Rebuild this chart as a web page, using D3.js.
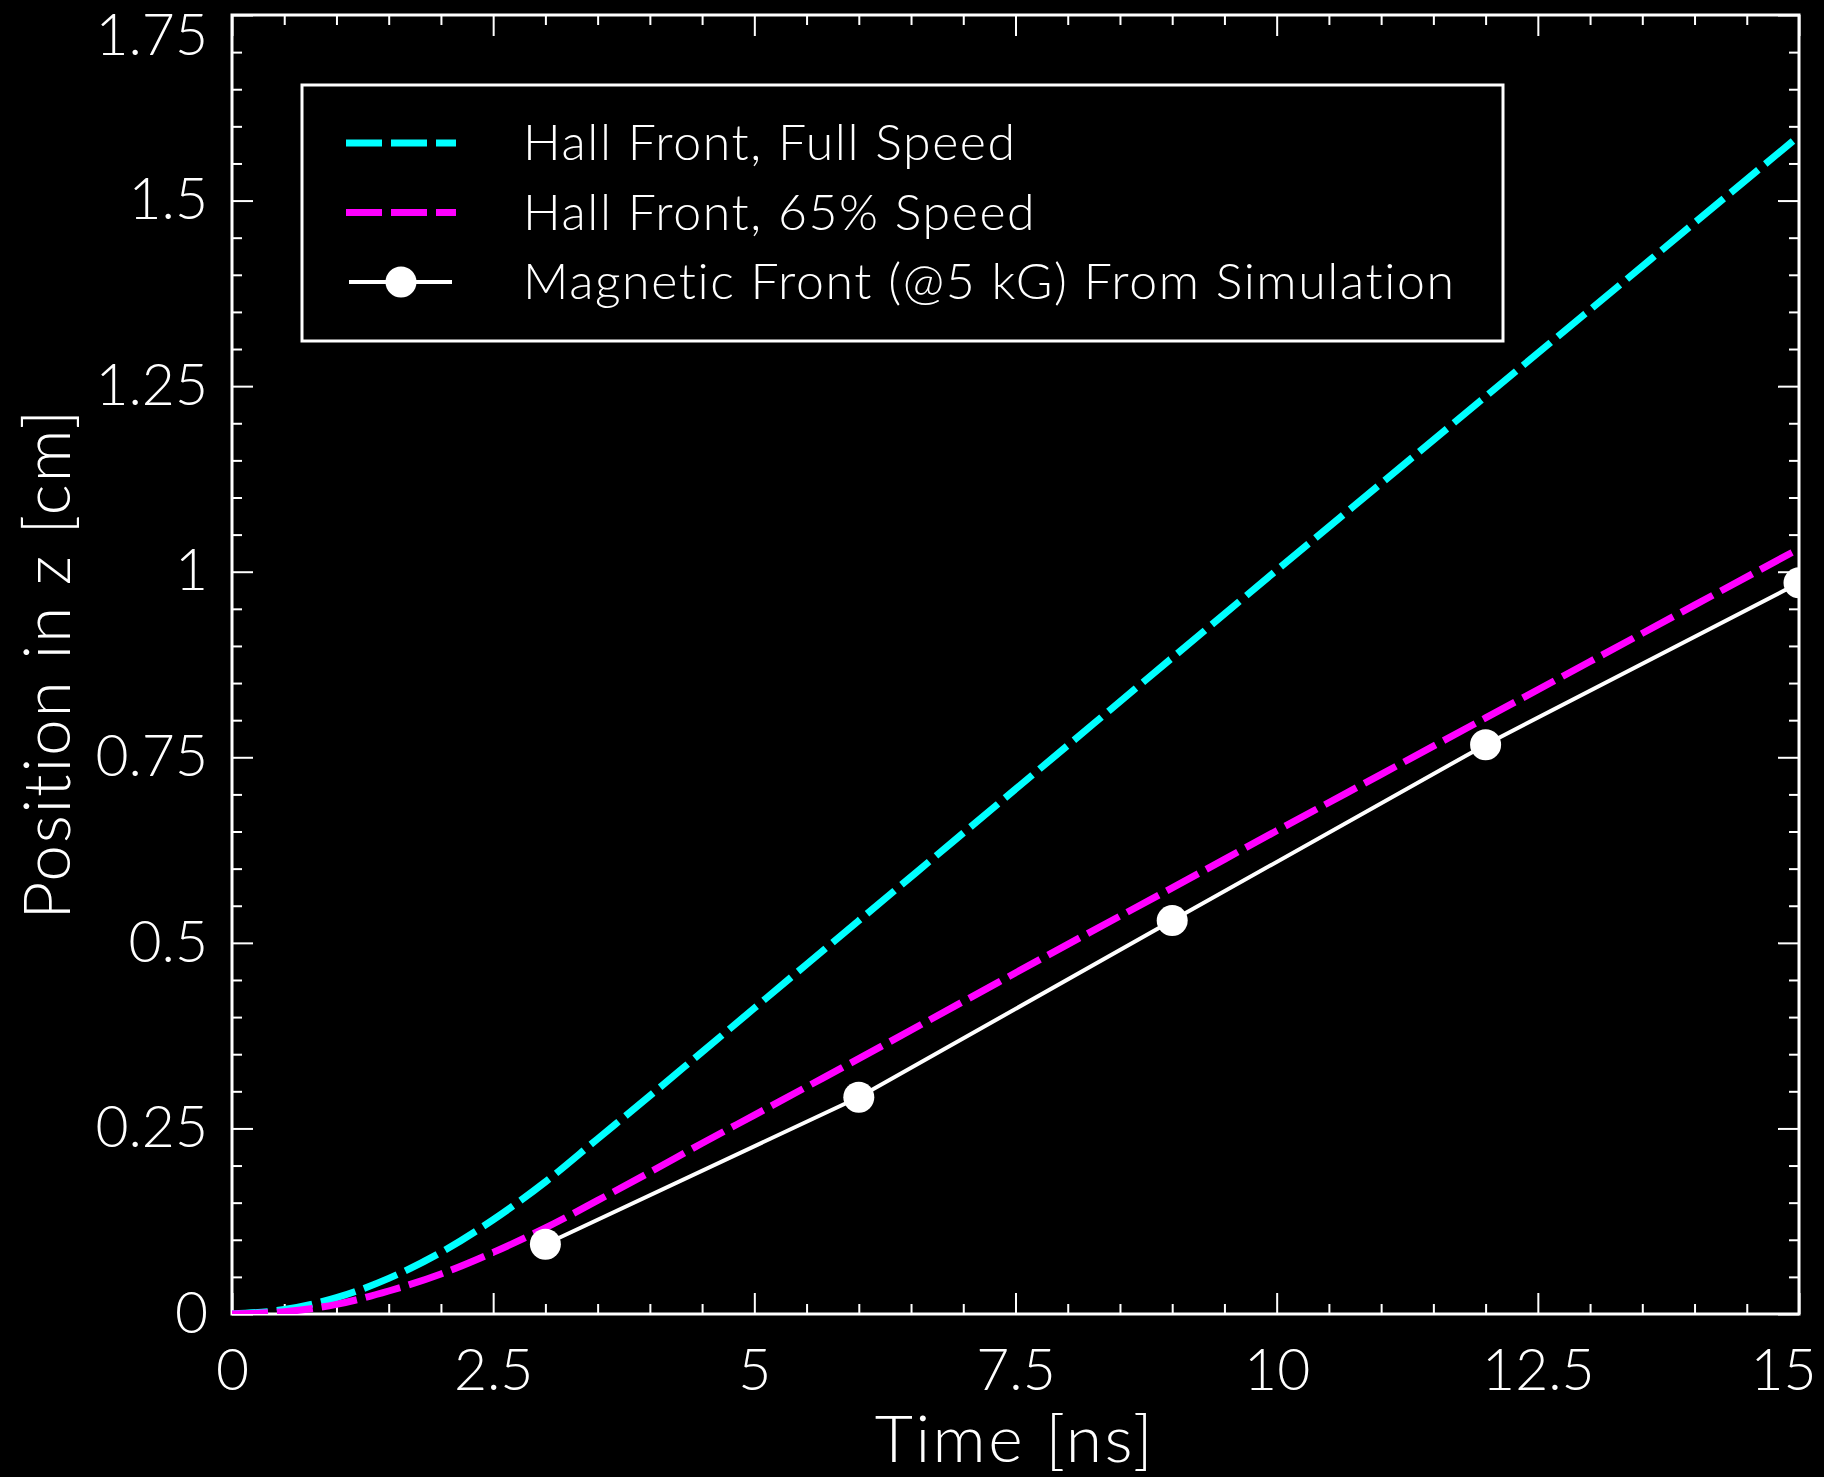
<!DOCTYPE html>
<html>
<head>
<meta charset="utf-8">
<script src="https://cdn.jsdelivr.net/npm/d3@7"></script>
<style>
  body { margin: 0; background: #000; }
  svg { display: block; }
  text { font-family: Lato, "Noto Sans", sans-serif; font-weight: 300; fill: #fff; }
</style>
</head>
<body>
<div id="vis"></div>
<script>
// hall front curves
var timeNs = [0, 0.5, 1, 1.5, 2, 2.5, 3, 3.5, 4, 4.5, 5, 5.5, 6, 7, 8, 9, 10, 11, 12, 13, 14, 15]
var fullSpeed = [0, 0.006, 0.022, 0.048, 0.083, 0.127, 0.178, 0.236, 0.294, 0.353, 0.412, 0.471, 0.530,
                 0.648, 0.766, 0.884, 1.002, 1.119, 1.236, 1.353, 1.470, 1.587]
var speed65 = [0, 0.003, 0.013, 0.031, 0.054, 0.083, 0.116, 0.153, 0.191, 0.230, 0.268, 0.306, 0.344,
               0.421, 0.498, 0.574, 0.651, 0.727, 0.803, 0.879, 0.955, 1.031]

// magnetic front from simulation
var simTime = [3, 6, 9, 12, 15]
var simFront = [0.094, 0.292, 0.530, 0.767, 0.985]

var xTickLabels = ["0", "2.5", "5", "7.5", "10", "12.5", "15"]
var yTickLabels = ["0", "0.25", "0.5", "0.75", "1", "1.25", "1.5", "1.75"]
var legendLabels = ["Hall Front, Full Speed", "Hall Front, 65% Speed", "Magnetic Front (@5 kG) From Simulation"]

var width = 1824
var height = 1477
// plot box (don't call these top/left, window.top is taken)
var pLeft = 232, pRight = 1799, pTop = 15, pBottom = 1314

var svg = d3.select('#vis').append('svg')
  .attr('width', width)
  .attr('height', height)
  .style('background', '#000')

var x = d3.scaleLinear().domain([0, 15]).range([pLeft, pRight])
var y = d3.scaleLinear().domain([0, 1.75]).range([pBottom, pTop])

var xMajor = xTickLabels.map(Number)
var yMajor = yTickLabels.map(Number)
var xMinor = d3.range(0, 15.001, 0.5).filter(v => xMajor.indexOf(v) < 0)
var yMinor = d3.range(0, 1.7501, 0.05).map(v => +v.toFixed(2)).filter(v => yMajor.indexOf(v) < 0)

function styleAxis(g){
  g.select('.domain').remove()
  g.selectAll('line').attr('stroke', '#fff').attr('stroke-width', 2)
  g.selectAll('text').style('font-size', '57px').attr('fill', '#fff')
}

// minor ticks on all sides
svg.append('g').attr('transform', 'translate(0,' + pBottom + ')')
  .call(d3.axisBottom(x).tickValues(xMinor).tickSize(-10).tickFormat(''))
  .call(styleAxis)
svg.append('g').attr('transform', 'translate(0,' + pTop + ')')
  .call(d3.axisTop(x).tickValues(xMinor).tickSize(-10).tickFormat(''))
  .call(styleAxis)
svg.append('g').attr('transform', 'translate(' + pLeft + ',0)')
  .call(d3.axisLeft(y).tickValues(yMinor).tickSize(-10).tickFormat(''))
  .call(styleAxis)
svg.append('g').attr('transform', 'translate(' + pRight + ',0)')
  .call(d3.axisRight(y).tickValues(yMinor).tickSize(-10).tickFormat(''))
  .call(styleAxis)

// major ticks + labels
var xAxis = svg.append('g').attr('transform', 'translate(0,' + pBottom + ')')
  .call(d3.axisBottom(x).tickValues(xMajor).tickSize(-21).tickPadding(36)
    .tickFormat((d, i) => xTickLabels[i]))
  .call(styleAxis)
svg.append('g').attr('transform', 'translate(0,' + pTop + ')')
  .call(d3.axisTop(x).tickValues(xMajor).tickSize(-21).tickFormat(''))
  .call(styleAxis)
var yAxis = svg.append('g').attr('transform', 'translate(' + pLeft + ',0)')
  .call(d3.axisLeft(y).tickValues(yMajor).tickSize(-21).tickPadding(24)
    .tickFormat((d, i) => yTickLabels[i]))
  .call(styleAxis)
svg.append('g').attr('transform', 'translate(' + pRight + ',0)')
  .call(d3.axisRight(y).tickValues(yMajor).tickSize(-21).tickFormat(''))
  .call(styleAxis)

// keep the end labels inside the picture
yAxis.selectAll('.tick').filter(d => d == 1.75).select('text').attr('dy', '0.69em')
xAxis.selectAll('.tick').filter(d => d == 15).select('text')
  .attr('text-anchor', 'end').attr('x', 17)

// frame
svg.append('rect')
  .attr('x', pLeft).attr('y', pTop)
  .attr('width', pRight - pLeft).attr('height', pBottom - pTop)
  .attr('fill', 'none').attr('stroke', '#fff').attr('stroke-width', 3)

svg.append('clipPath').attr('id', 'plotClip')
  .append('rect')
  .attr('x', pLeft).attr('y', pTop)
  .attr('width', pRight - pLeft).attr('height', pBottom - pTop)

var plot = svg.append('g').attr('clip-path', 'url(#plotClip)')

var curve = d3.line()
  .x(d => x(d[0]))
  .y(d => y(d[1]))
  .curve(d3.curveMonotoneX)

plot.append('path')
  .attr('d', curve(d3.zip(timeNs, fullSpeed)))
  .attr('fill', 'none')
  .attr('stroke', '#00ffff')
  .attr('stroke-width', 7)
  .attr('stroke-dasharray', '36,9')

plot.append('path')
  .attr('d', curve(d3.zip(timeNs, speed65)))
  .attr('fill', 'none')
  .attr('stroke', '#ff00ff')
  .attr('stroke-width', 7)
  .attr('stroke-dasharray', '36,9')

var simData = d3.zip(simTime, simFront)
plot.append('path')
  .attr('d', d3.line().x(d => x(d[0])).y(d => y(d[1]))(simData))
  .attr('fill', 'none')
  .attr('stroke', '#fff')
  .attr('stroke-width', 4)

plot.selectAll('circle.sim')
  .data(simData)
  .enter()
  .append('circle')
  .attr('class', 'sim')
  .attr('cx', d => x(d[0]))
  .attr('cy', d => y(d[1]))
  .attr('r', 15.5)
  .attr('fill', '#fff')

// axis titles
svg.append('text')
  .attr('x', 1015).attr('y', 1462)
  .attr('text-anchor', 'middle')
  .style('font-size', '66px')
  .style('letter-spacing', '2.5px')
  .text('Time [ns]')

svg.append('text')
  .attr('transform', 'translate(70,664) rotate(-90)')
  .attr('text-anchor', 'middle')
  .style('font-size', '66px')
  .style('letter-spacing', '1.8px')
  .text('Position in z [cm]')

// legend
var legend = svg.append('g')
legend.append('rect')
  .attr('x', 302).attr('y', 85)
  .attr('width', 1201).attr('height', 256)
  .attr('fill', '#000').attr('stroke', '#fff').attr('stroke-width', 3)

var legendColors = ['#00ffff', '#ff00ff', '#fff']
legendLabels.forEach((lbl, i) => {
  var ly = 143 + i * 69.5
  var ln = legend.append('line')
    .attr('x1', i < 2 ? 346 : 349).attr('x2', i < 2 ? 456 : 452)
    .attr('y1', ly).attr('y2', ly)
    .attr('stroke', legendColors[i])
  if (i < 2) {
    ln.attr('stroke-width', 7).attr('stroke-dasharray', '36,9')
  } else {
    ln.attr('stroke-width', 4)
    legend.append('circle').attr('cx', 401).attr('cy', ly).attr('r', 15.5).attr('fill', '#fff')
  }
  legend.append('text')
    .attr('x', 523).attr('y', ly + 17)
    .style('font-size', '50px')
    .style('letter-spacing', '1.6px')
    .text(lbl)
})
</script>
</body>
</html>
